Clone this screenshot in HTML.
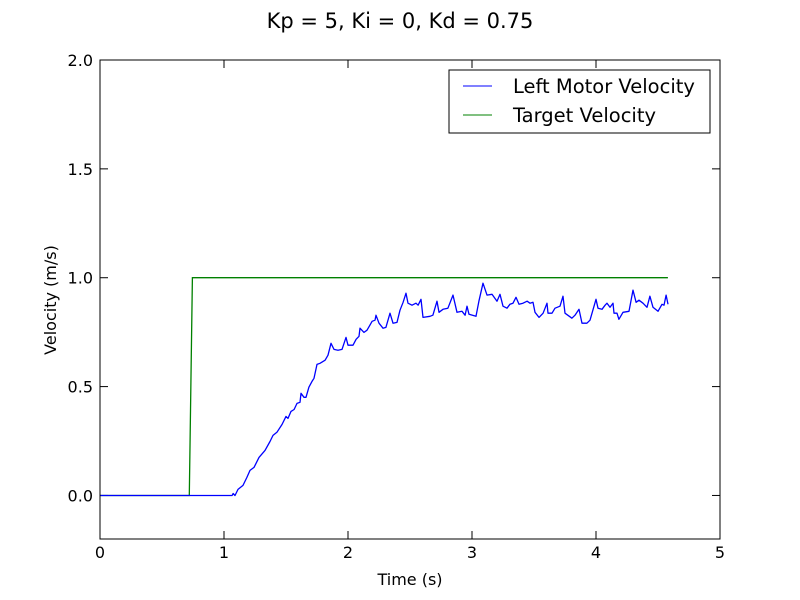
<!DOCTYPE html>
<html><head><meta charset="utf-8"><style>
body{margin:0;background:#fff;}
svg{display:block;font-family:"DejaVu Sans","Liberation Sans",sans-serif;}
</style></head><body>
<svg id="chart" width="800" height="600">
<rect width="800" height="600" fill="#fff"/>
<text x="400" y="28" text-anchor="middle" font-size="21">Kp = 5, Ki = 0, Kd = 0.75</text>
<g id="ticks"></g>
<g id="series"></g>
<rect x="100" y="60" width="620" height="479" fill="none" stroke="#000" stroke-width="1"/>
<text x="410" y="585" text-anchor="middle" font-size="16">Time (s)</text>
<text transform="translate(56,300) rotate(-90)" text-anchor="middle" font-size="16">Velocity (m/s)</text>
<g>
<rect x="449" y="70" width="261" height="63" fill="#fff" stroke="#000" stroke-width="1"/>
<line x1="463" y1="86" x2="492" y2="86" stroke="#0000ff" stroke-width="1"/>
<text x="513" y="93" font-size="19.5">Left Motor Velocity</text>
<line x1="463" y1="115" x2="492" y2="115" stroke="#008000" stroke-width="1"/>
<text x="513" y="122" font-size="19.5">Target Velocity</text>
</g>
</svg>
<script>
const xTicks=[0,1,2,3,4,5];
const yTicks=[0.0,0.5,1.0,1.5,2.0];
const targetTime=[0,0.72,0.745,4.58];
const targetVel=[0,0,1,1];
const motorTime=[0,1.065,1.073,1.089,1.113,1.153,1.185,1.210,1.242,1.282,
1.331,1.371,1.395,1.427,1.468,1.500,1.516,1.540,1.565,1.589,
1.613,1.621,1.645,1.661,1.685,1.710,1.726,1.750,1.774,1.815,
1.839,1.863,1.887,1.919,1.952,1.984,2.000,2.040,2.065,2.089,
2.097,2.129,2.153,2.177,2.194,2.218,2.226,2.250,2.282,2.306,
2.339,2.363,2.395,2.419,2.444,2.468,2.484,2.516,2.548,2.565,
2.589,2.605,2.661,2.685,2.718,2.734,2.766,2.806,2.847,2.879,
2.919,2.944,2.960,2.976,3.032,3.056,3.089,3.121,3.161,3.202,
3.226,3.250,3.282,3.306,3.331,3.355,3.379,3.411,3.444,3.468,
3.492,3.508,3.540,3.573,3.605,3.613,3.645,3.669,3.710,3.734,
3.750,3.806,3.831,3.863,3.887,3.927,3.952,4.000,4.016,4.048,
4.073,4.089,4.113,4.137,4.145,4.169,4.185,4.218,4.266,4.298,
4.323,4.347,4.379,4.411,4.435,4.460,4.500,4.532,4.548,4.565,
4.581];
const motorVel=[0,0,0.009,0,0.028,0.046,0.083,0.115,0.129,0.175,
0.207,0.248,0.276,0.290,0.326,0.363,0.354,0.386,0.395,0.423,
0.428,0.469,0.451,0.451,0.497,0.524,0.538,0.602,0.607,0.621,
0.644,0.699,0.671,0.667,0.671,0.726,0.690,0.690,0.717,0.731,
0.768,0.749,0.759,0.782,0.800,0.805,0.828,0.791,0.768,0.772,
0.837,0.791,0.795,0.851,0.887,0.929,0.883,0.874,0.883,0.874,
0.901,0.818,0.823,0.828,0.892,0.841,0.855,0.860,0.920,0.841,
0.846,0.828,0.869,0.832,0.823,0.892,0.975,0.920,0.924,0.892,
0.924,0.869,0.860,0.878,0.883,0.910,0.878,0.883,0.892,0.883,
0.887,0.841,0.818,0.837,0.883,0.837,0.837,0.860,0.869,0.915,
0.837,0.814,0.828,0.855,0.791,0.791,0.805,0.901,0.860,0.855,
0.874,0.883,0.864,0.883,0.837,0.837,0.809,0.841,0.846,0.943,
0.887,0.897,0.883,0.864,0.915,0.864,0.846,0.878,0.874,0.920,
0.878];

const X0=100,X1=720,Y0=539,Y1=60;
const xScale=t=>X0+(t-0)/(5-0)*(X1-X0);
const yScale=v=>Y0-(v-(-0.2))/(2.0-(-0.2))*(Y0-Y1);
const NS='http://www.w3.org/2000/svg';
const tg=document.getElementById('ticks');
const sg=document.getElementById('series');
function mk(tag,attrs,parent){const e=document.createElementNS(NS,tag);for(const k in attrs)e.setAttribute(k,attrs[k]);parent.appendChild(e);return e;}
xTicks.forEach(t=>{
  const x=xScale(t);
  const a=mk('line',{x1:x,y1:Y0,x2:x,y2:Y0-8,stroke:'#000'},tg);
  
  
  mk('line',{x1:x,y1:Y1,x2:x,y2:Y1+8,stroke:'#000'},tg);
  const l=mk('text',{x:x,y:Y0+19,'text-anchor':'middle','font-size':16},tg);
  l.textContent=String(t);
  
  
});
yTicks.forEach(v=>{
  const y=yScale(v);
  const a=mk('line',{x1:X0,y1:y,x2:X0+8,y2:y,stroke:'#000'},tg);
  
  
  mk('line',{x1:X1,y1:y,x2:X1-8,y2:y,stroke:'#000'},tg);
  const l=mk('text',{x:X0-7,y:y+6,'text-anchor':'end','font-size':16},tg);
  l.textContent=v.toFixed(1);
  
  
});
function pts(ts,vs){return ts.map((t,i)=>xScale(t).toFixed(1)+','+yScale(vs[i]).toFixed(1)).join(' ');}
const tl=mk('polyline',{points:pts(targetTime,targetVel),fill:'none',stroke:'#008000','stroke-width':1.3},sg);


const ml=mk('polyline',{points:pts(motorTime,motorVel),fill:'none',stroke:'#0000ff','stroke-width':1.3,'stroke-linejoin':'round'},sg);


</script>
</body></html>
